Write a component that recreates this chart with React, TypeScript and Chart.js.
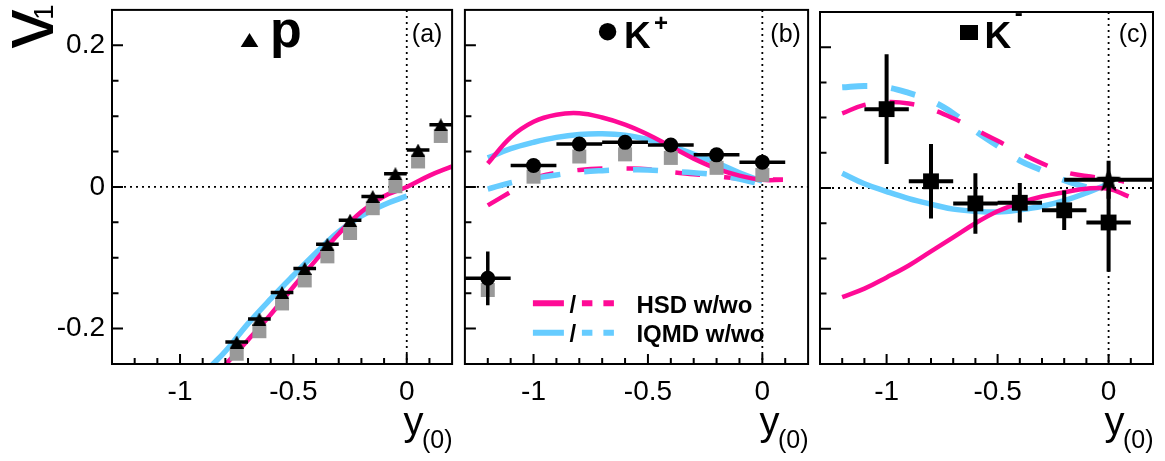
import React, { useEffect, useRef } from 'react';
import { Chart, registerables } from 'chart.js';

Chart.register(...registerables);

const FONT = "'Liberation Sans', Arial, Helvetica, sans-serif";
const MAGENTA = '#ff0a96';
const CYAN = '#66ccff';
const GREY = '#999999';

// axis ranges and ticks
const X_MIN = -1.3;
const X_MAX = 0.2;
const Y_MIN = -0.25;
const Y_MAX = 0.25;
const X_MAJOR_TICKS = [-1, -0.5, 0];
const X_MINOR_TICKS = [-1.2, -1.1, -0.9, -0.8, -0.7, -0.6, -0.4, -0.3, -0.2, -0.1, 0.1];
const Y_MAJOR_TICKS = [-0.2, 0, 0.2];
const Y_MINOR_TICKS = [-0.15, -0.1, -0.05, 0.05, 0.1, 0.15];

// (a) protons
const P_Y0 = [-0.75, -0.65, -0.55, -0.45, -0.35, -0.25, -0.15, -0.05, 0.05, 0.15];
const P_V1 = [-0.219, -0.1865, -0.149, -0.115, -0.081, -0.047, -0.0135, 0.0187, 0.052, 0.0877];
const P_V1_GREY = [-0.2355, -0.2037, -0.1645, -0.132, -0.098, -0.065, -0.03, 0.001, 0.036, 0.072];
const P_XERR = [0.05, 0.05, 0.05, 0.05, 0.05, 0.05, 0.05, 0.05, 0.05, 0.05];
const P_YERR = [0, 0, 0, 0, 0, 0, 0, 0, 0, 0];

const HSD_W_A_X = [-0.8, -0.7, -0.6, -0.5, -0.4, -0.3, -0.2, -0.1, 0, 0.1, 0.2];
const HSD_W_A_V = [-0.251, -0.216, -0.18, -0.141, -0.103, -0.066, -0.035, -0.013, 0.0, 0.016, 0.029];
const IQMD_W_A_X = [-0.86, -0.8, -0.7, -0.6, -0.5, -0.4, -0.3, -0.2, -0.1, 0];
const IQMD_W_A_V = [-0.252, -0.232, -0.193, -0.158, -0.125, -0.093, -0.063, -0.041, -0.025, -0.013];

// (b) K+
const KP_Y0 = [-1.2, -1.0, -0.8, -0.6, -0.4, -0.2, 0.0];
const KP_V1 = [-0.129, 0.0303, 0.0607, 0.063, 0.0593, 0.0453, 0.035];
const KP_V1_ERR = [0.038, 0.006, 0.006, 0.006, 0.006, 0.006, 0.006];
const KP_XERR = [0.1, 0.1, 0.1, 0.1, 0.1, 0.1, 0.1];
const KP_V1_GREY = [-0.1455, 0.0145, 0.043, 0.046, 0.041, 0.027, 0.017];

const HSD_W_B_X = [-1.2, -1.1, -1.0, -0.9, -0.8, -0.7, -0.6, -0.5, -0.4, -0.3, -0.2, -0.1, 0, 0.09];
const HSD_W_B_V = [0.033, 0.07, 0.092, 0.102, 0.104, 0.098, 0.088, 0.074, 0.057, 0.04, 0.026, 0.016, 0.01, 0.01];
const HSD_WO_B_X = [-1.2, -1.1, -1.0, -0.9, -0.8, -0.7, -0.6, -0.5, -0.4, -0.3, -0.2, -0.1, 0, 0.09];
const HSD_WO_B_V = [-0.026, -0.007, 0.012, 0.02, 0.024, 0.026, 0.026, 0.025, 0.021, 0.018, 0.015, 0.012, 0.011, 0.01];
const IQMD_W_B_X = [-1.2, -1.1, -1.0, -0.9, -0.8, -0.7, -0.6, -0.5, -0.4, -0.3, -0.2, -0.1, 0];
const IQMD_W_B_V = [0.041, 0.054, 0.063, 0.07, 0.074, 0.075, 0.073, 0.067, 0.058, 0.046, 0.034, 0.02, 0.008];
const IQMD_WO_B_X = [-1.2, -1.1, -1.0, -0.9, -0.8, -0.7, -0.6, -0.5, -0.4, -0.3, -0.2, -0.1, -0.02];
const IQMD_WO_B_V = [-0.003, 0.006, 0.012, 0.017, 0.021, 0.023, 0.024, 0.024, 0.022, 0.02, 0.017, 0.011, 0.005];

// (c) K-
const KM_Y0 = [-1.0, -0.8, -0.6, -0.4, -0.2, 0.0];
const KM_V1 = [0.112, 0.0095, -0.0219, -0.021, -0.0317, -0.049];
const KM_V1_ERR = [0.078, 0.053, 0.043, 0.028, 0.028, 0.07];
const KM_XERR = [0.1, 0.1, 0.1, 0.1, 0.1, 0.1];
const KM_STAR_Y0 = [0.0];
const KM_STAR_V1 = [0.0117];
const KM_STAR_V1_ERR = [0.027];
const KM_STAR_XERR = [0.2];

const HSD_W_C_X = [-1.2, -1.1, -1.0, -0.9, -0.8, -0.7, -0.6, -0.5, -0.4, -0.3, -0.2, -0.1, 0, 0.09];
const HSD_W_C_V = [-0.155, -0.143, -0.127, -0.11, -0.09, -0.07, -0.05, -0.033, -0.021, -0.012, -0.006, -0.001, -0.001, -0.012];
const HSD_WO_C_X = [-1.2, -1.1, -1.0, -0.9, -0.8, -0.7, -0.6, -0.5, -0.4, -0.3, -0.2, -0.1, 0, 0.07];
const HSD_WO_C_V = [0.106, 0.118, 0.122, 0.12, 0.112, 0.099, 0.083, 0.067, 0.05, 0.035, 0.023, 0.017, 0.013, 0.009];
const IQMD_W_C_X = [-1.2, -1.1, -1.0, -0.9, -0.8, -0.7, -0.6, -0.5, -0.4, -0.3, -0.2, -0.1, 0];
const IQMD_W_C_V = [0.021, 0.006, -0.005, -0.015, -0.023, -0.03, -0.033, -0.034, -0.031, -0.026, -0.018, -0.007, 0.006];
const IQMD_WO_C_X = [-1.2, -1.1, -1.0, -0.9, -0.8, -0.7, -0.6, -0.5, -0.4, -0.3, -0.2, -0.1];
const IQMD_WO_C_V = [0.143, 0.145, 0.143, 0.135, 0.124, 0.106, 0.081, 0.06, 0.039, 0.025, 0.011, 0.001];

const LEGEND_LABELS = ['HSD w/wo', 'IQMD w/wo'];

type ErrSet = { xs: number[]; ys: number[]; xerr: number[]; yerr: number[]; lw: number };

function pts(xs: number[], ys: number[]) {
  return xs.map((x, i) => ({ x, y: ys[i] }));
}

function curve(xs: number[], ys: number[], color: string, dashed: boolean, width: number, order: number) {
  return {
    type: 'line',
    data: pts(xs, ys),
    borderColor: color,
    borderWidth: width,
    borderDash: dashed ? [25, 24] : [],
    borderCapStyle: 'butt',
    pointRadius: 0,
    tension: 0.4,
    fill: false,
    order,
  };
}

function markers(xs: number[], ys: number[], style: any, radius: number, color: string, order: number) {
  return {
    type: 'line',
    showLine: false,
    data: pts(xs, ys),
    pointStyle: style,
    pointRadius: radius,
    pointBackgroundColor: color,
    pointBorderWidth: 0,
    borderColor: color,
    order,
  };
}

function makeTriangle(w: number, h: number) {
  const c = document.createElement('canvas');
  c.width = w;
  c.height = h;
  const g = c.getContext('2d')!;
  g.fillStyle = '#000';
  g.beginPath();
  g.moveTo(w / 2, 0);
  g.lineTo(w, h);
  g.lineTo(0, h);
  g.closePath();
  g.fill();
  return c;
}

function starPath(g: CanvasRenderingContext2D, cx: number, cy: number, R: number, r: number) {
  g.beginPath();
  for (let i = 0; i < 10; i++) {
    const a = -Math.PI / 2 + (i * Math.PI) / 5;
    const rr = i % 2 === 0 ? R : r;
    const px = cx + rr * Math.cos(a);
    const py = cy + rr * Math.sin(a);
    if (i === 0) g.moveTo(px, py);
    else g.lineTo(px, py);
  }
  g.closePath();
}

function makeStar(R: number, r: number) {
  const s = Math.ceil(2 * R + 2);
  const c = document.createElement('canvas');
  c.width = s;
  c.height = s;
  const g = c.getContext('2d')!;
  g.fillStyle = '#000';
  starPath(g, s / 2, s / 2 + 1, R, r);
  g.fill();
  return c;
}

function font(size: number, bold = false) {
  return `${bold ? 'bold ' : ''}${size}px ${FONT}`;
}

function txt(ctx: CanvasRenderingContext2D, s: string, x: number, y: number, size: number, bold: boolean, align: CanvasTextAlign = 'left') {
  ctx.font = font(size, bold);
  ctx.textAlign = align;
  ctx.textBaseline = 'alphabetic';
  ctx.fillStyle = '#000';
  ctx.fillText(s, x, y);
}

type PanelSpec = {
  id: string;
  showY: boolean;
  padding: { left: number; right: number; top: number; bottom: number };
  datasets: any[];
  errorSets: ErrSet[];
  errorsBeforeIndex: number;
  letter: string;
  letterOffset: number;
  annotate: (ctx: CanvasRenderingContext2D, ca: any) => void;
};

function buildConfig(p: PanelSpec): any {
  const plugin = {
    id: 'panel_' + p.id,
    beforeDatasetsDraw(chart: any) {
      const { ctx, chartArea: ca, scales } = chart;
      ctx.save();
      ctx.strokeStyle = '#000';
      ctx.lineWidth = 1.8;
      ctx.setLineDash([2, 4]);
      ctx.beginPath();
      const y0 = scales.y.getPixelForValue(0);
      ctx.moveTo(ca.left, y0);
      ctx.lineTo(ca.right, y0);
      const x0 = scales.x.getPixelForValue(0);
      ctx.moveTo(x0, ca.top);
      ctx.lineTo(x0, ca.bottom);
      ctx.stroke();
      ctx.restore();
    },
    beforeDatasetDraw(chart: any, args: any) {
      if (args.index !== p.errorsBeforeIndex) return;
      const { ctx, chartArea: ca, scales } = chart;
      const sx = scales.x;
      const sy = scales.y;
      ctx.save();
      ctx.beginPath();
      ctx.rect(ca.left, ca.top, ca.right - ca.left, ca.bottom - ca.top);
      ctx.clip();
      ctx.strokeStyle = '#000';
      ctx.lineCap = 'butt';
      ctx.setLineDash([]);
      for (const es of p.errorSets) {
        ctx.lineWidth = es.lw;
        ctx.beginPath();
        es.xs.forEach((x, i) => {
          const y = es.ys[i];
          const px = sx.getPixelForValue(x);
          const py = sy.getPixelForValue(y);
          if (es.xerr[i] > 0) {
            ctx.moveTo(sx.getPixelForValue(x - es.xerr[i]), py);
            ctx.lineTo(sx.getPixelForValue(x + es.xerr[i]), py);
          }
          if (es.yerr[i] > 0) {
            ctx.moveTo(px, sy.getPixelForValue(y + es.yerr[i]));
            ctx.lineTo(px, sy.getPixelForValue(y - es.yerr[i]));
          }
        });
        ctx.stroke();
      }
      ctx.restore();
    },
    afterDraw(chart: any) {
      const { ctx, chartArea: ca, scales } = chart;
      const sx = scales.x;
      const sy = scales.y;
      ctx.save();
      ctx.strokeStyle = '#000';
      ctx.setLineDash([]);
      ctx.lineWidth = 2;
      ctx.beginPath();
      for (const v of Y_MAJOR_TICKS) {
        const py = sy.getPixelForValue(v);
        ctx.moveTo(ca.left, py);
        ctx.lineTo(ca.left + 11, py);
      }
      for (const v of Y_MINOR_TICKS) {
        const py = sy.getPixelForValue(v);
        ctx.moveTo(ca.left, py);
        ctx.lineTo(ca.left + 6.5, py);
      }
      for (const v of X_MAJOR_TICKS) {
        const px = sx.getPixelForValue(v);
        ctx.moveTo(px, ca.bottom);
        ctx.lineTo(px, ca.bottom - 10);
      }
      for (const v of X_MINOR_TICKS) {
        const px = sx.getPixelForValue(v);
        ctx.moveTo(px, ca.bottom);
        ctx.lineTo(px, ca.bottom - 6);
      }
      ctx.stroke();
      ctx.strokeRect(ca.left, ca.top, ca.right - ca.left, ca.bottom - ca.top);

      // panel letter
      txt(ctx, p.letter, ca.right - p.letterOffset, 41.5, 25, false, 'center');
      // x-axis title y_(0)
      txt(ctx, 'y', ca.right - 28.5, 435, 40, false, 'right');
      txt(ctx, '(0)', ca.right + 0.5, 448, 25, false, 'right');

      p.annotate(ctx, ca);
      ctx.restore();
    },
  };

  return {
    type: 'line',
    data: { datasets: p.datasets },
    options: {
      responsive: false,
      animation: false,
      devicePixelRatio: 1,
      events: [],
      layout: { padding: p.padding },
      plugins: {
        legend: { display: false },
        tooltip: { enabled: false },
        title: { display: false },
      },
      scales: {
        x: {
          type: 'linear',
          min: X_MIN,
          max: X_MAX,
          grid: { display: false, drawTicks: false },
          border: { display: false },
          afterBuildTicks: (s: any) => {
            s.ticks = X_MAJOR_TICKS.map((v) => ({ value: v }));
          },
          afterFit: (s: any) => {
            s.height = 97;
            s.paddingLeft = 0;
            s.paddingRight = 0;
          },
          ticks: {
            color: '#000',
            font: { size: 28, family: FONT },
            padding: 11,
            maxRotation: 0,
            autoSkip: false,
            callback: (v: any) => String(v),
          },
        },
        y: {
          type: 'linear',
          min: Y_MIN,
          max: Y_MAX,
          display: p.showY,
          grid: { display: false, drawTicks: false },
          border: { display: false },
          afterBuildTicks: (s: any) => {
            s.ticks = Y_MAJOR_TICKS.map((v) => ({ value: v }));
          },
          afterFit: (s: any) => {
            s.width = p.showY ? 112 : 0;
            s.paddingTop = 0;
            s.paddingBottom = 0;
          },
          ticks: {
            color: '#000',
            font: { size: 28, family: FONT },
            padding: 7,
            autoSkip: false,
            callback: (v: any) => String(v),
          },
        },
      },
    },
    plugins: [plugin],
  };
}

function panelA(tri: HTMLCanvasElement): PanelSpec {
  return {
    id: 'a',
    showY: true,
    padding: { left: 0, right: 2, top: 9, bottom: 0 },
    datasets: [
      markers(P_Y0, P_V1, tri, 7, '#000', 0),
      markers(P_Y0, P_V1_GREY, 'rect', 9.9, GREY, 1),
      curve(HSD_W_A_X, HSD_W_A_V, MAGENTA, false, 4.5, 2),
      curve(IQMD_W_A_X, IQMD_W_A_V, CYAN, false, 5.5, 3),
    ],
    errorSets: [{ xs: P_Y0, ys: P_V1, xerr: P_XERR, yerr: P_YERR, lw: 3.5 }],
    errorsBeforeIndex: 0,
    letter: '(a)',
    letterOffset: 25,
    annotate: (ctx, ca) => {
      const cx = ca.left + 137.5;
      ctx.fillStyle = '#000';
      ctx.beginPath();
      ctx.moveTo(cx, 33);
      ctx.lineTo(cx + 8.8, 47);
      ctx.lineTo(cx - 8.8, 47);
      ctx.closePath();
      ctx.fill();
      txt(ctx, 'p', ca.left + 158, 47, 52, true);
      // y axis title v_1 (rotated)
      ctx.save();
      ctx.translate(53, 48.5);
      ctx.rotate(-Math.PI / 2);
      txt(ctx, 'v', 0, 0, 78, false);
      txt(ctx, '1', 28.5, 0, 28, false);
      ctx.restore();
    },
  };
}

function panelB(): PanelSpec {
  return {
    id: 'b',
    showY: false,
    padding: { left: 5, right: 5, top: 9, bottom: 0 },
    datasets: [
      markers(KP_Y0, KP_V1, 'circle', 7.5, '#000', 0),
      markers(KP_Y0, KP_V1_GREY, 'rect', 9.9, GREY, 1),
      curve(HSD_W_B_X, HSD_W_B_V, MAGENTA, false, 4.5, 2),
      curve(IQMD_W_B_X, IQMD_W_B_V, CYAN, false, 5.5, 3),
      curve(IQMD_WO_B_X, IQMD_WO_B_V, CYAN, true, 5.5, 4),
      curve(HSD_WO_B_X, HSD_WO_B_V, MAGENTA, true, 4.5, 5),
    ],
    errorSets: [{ xs: KP_Y0, ys: KP_V1, xerr: KP_XERR, yerr: KP_V1_ERR, lw: 3.5 }],
    errorsBeforeIndex: 0,
    letter: '(b)',
    letterOffset: 22.5,
    annotate: (ctx, ca) => {
      ctx.fillStyle = '#000';
      ctx.beginPath();
      ctx.arc(ca.left + 142.7, 31.7, 8.7, 0, Math.PI * 2);
      ctx.fill();
      txt(ctx, 'K', ca.left + 159, 48.3, 37, true);
      txt(ctx, '+', ca.left + 196, 30.5, 24, true, 'center');
      // legend
      const rows = [
        { color: MAGENTA, y: 303.3, base: 313.3 },
        { color: CYAN, y: 332.7, base: 342 },
      ];
      rows.forEach((r, i) => {
        ctx.strokeStyle = r.color;
        ctx.lineWidth = 6;
        ctx.setLineDash([]);
        ctx.lineCap = 'butt';
        ctx.beginPath();
        ctx.moveTo(ca.left + 68, r.y);
        ctx.lineTo(ca.left + 99, r.y);
        ctx.moveTo(ca.left + 117, r.y);
        ctx.lineTo(ca.left + 127.5, r.y);
        ctx.moveTo(ca.left + 138.5, r.y);
        ctx.lineTo(ca.left + 149, r.y);
        ctx.stroke();
        txt(ctx, '/', ca.left + 108, r.base, 24, true, 'center');
        txt(ctx, LEGEND_LABELS[i], ca.left + 171.5, r.base, 24, true);
      });
    },
  };
}

function panelC(star: HTMLCanvasElement): PanelSpec {
  return {
    id: 'c',
    showY: false,
    padding: { left: 5, right: 2, top: 9, bottom: 0 },
    datasets: [
      markers(KM_STAR_Y0, KM_STAR_V1, star, 12, '#000', 0),
      markers(KM_Y0, KM_V1, 'rect', 11.2, '#000', 1),
      curve(HSD_W_C_X, HSD_W_C_V, MAGENTA, false, 4.5, 2),
      curve(IQMD_W_C_X, IQMD_W_C_V, CYAN, false, 5.5, 3),
      curve(HSD_WO_C_X, HSD_WO_C_V, MAGENTA, true, 4.5, 4),
      curve(IQMD_WO_C_X, IQMD_WO_C_V, CYAN, true, 6, 5),
    ],
    errorSets: [
      { xs: KM_Y0, ys: KM_V1, xerr: KM_XERR, yerr: KM_V1_ERR, lw: 4 },
      { xs: KM_STAR_Y0, ys: KM_STAR_V1, xerr: KM_STAR_XERR, yerr: KM_STAR_V1_ERR, lw: 4 },
    ],
    errorsBeforeIndex: 1,
    letter: '(c)',
    letterOffset: 19.7,
    annotate: (ctx, ca) => {
      ctx.fillStyle = '#000';
      ctx.fillRect(ca.left + 140, 25, 18, 15);
      txt(ctx, 'K', ca.left + 164.5, 47.5, 37, true);
      txt(ctx, '-', ca.left + 198.7, 21, 24, true, 'center');
    },
  };
}

export default function App() {
  const refA = useRef<HTMLCanvasElement>(null);
  const refB = useRef<HTMLCanvasElement>(null);
  const refC = useRef<HTMLCanvasElement>(null);

  useEffect(() => {
    const tri = makeTriangle(14, 13);
    const star = makeStar(13, 5.3);
    const charts = [
      new Chart(refA.current!, buildConfig(panelA(tri))),
      new Chart(refB.current!, buildConfig(panelB())),
      new Chart(refC.current!, buildConfig(panelC(star))),
    ];
    return () => charts.forEach((c) => c.destroy());
  }, []);

  return (
    <div style={{ position: 'absolute', left: 0, top: 0, width: 1165, height: 461, background: '#fff', overflow: 'hidden' }}>
      <canvas ref={refA} width={462} height={461} style={{ position: 'absolute', left: 0, top: 0 }} />
      <canvas ref={refB} width={363} height={461} style={{ position: 'absolute', left: 455, top: 0 }} />
      <canvas ref={refC} width={357} height={461} style={{ position: 'absolute', left: 808, top: 0 }} />
    </div>
  );
}
